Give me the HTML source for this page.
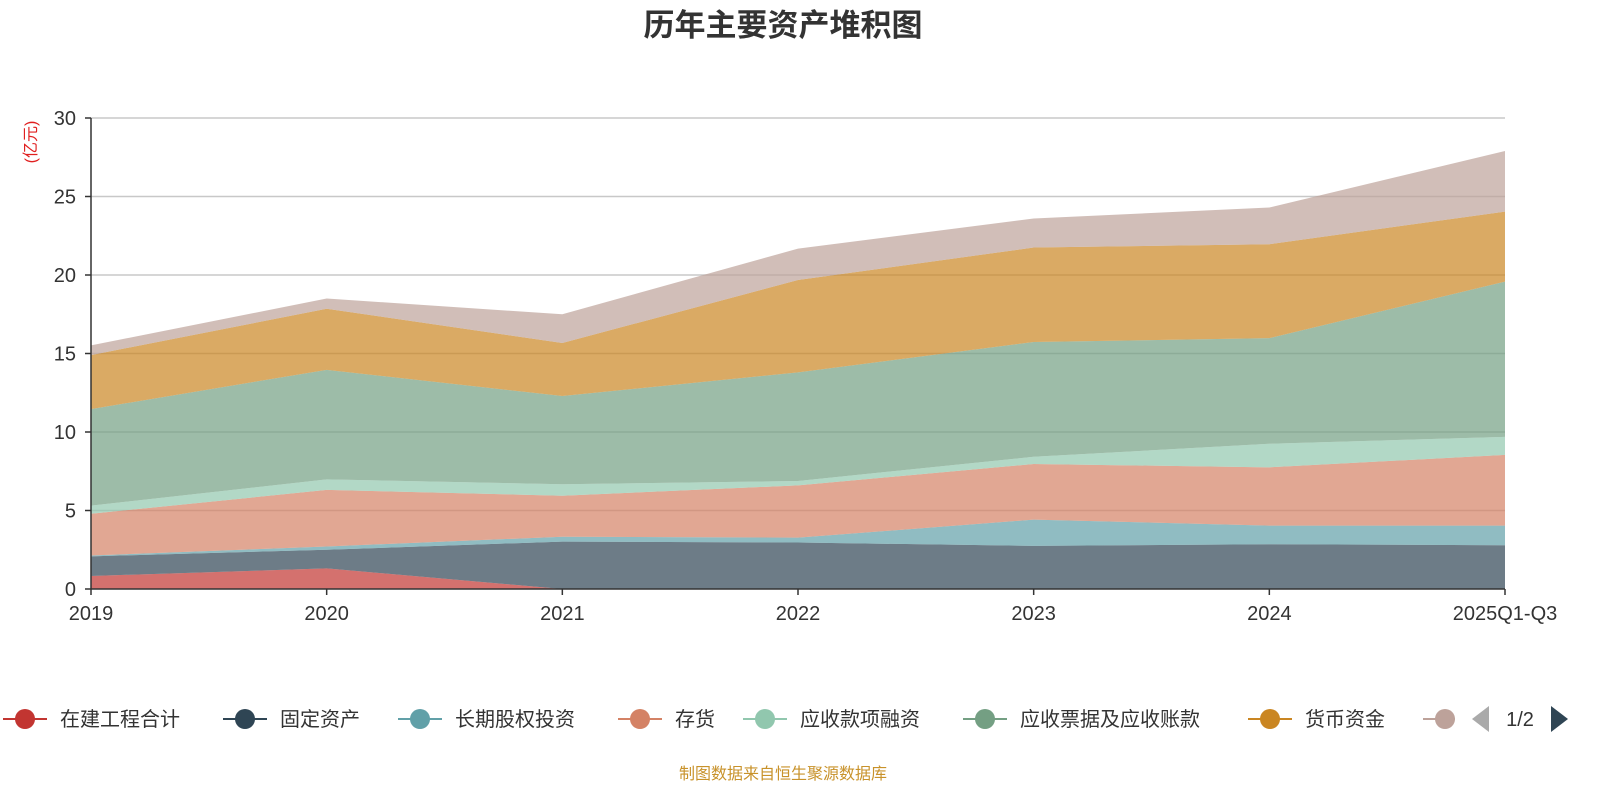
<!DOCTYPE html>
<html><head><meta charset="utf-8"><style>
body{margin:0;width:1600px;height:800px;background:#fff;overflow:hidden;font-family:"Liberation Sans","Noto Sans CJK SC",sans-serif;}
svg{position:absolute;left:0;top:0}
</style></head><body>
<svg id="chart" width="1600" height="800"></svg>
<script>
const categories=["2019","2020","2021","2022","2023","2024","2025Q1-Q3"];
const seriesNames=["在建工程合计","固定资产","长期股权投资","存货","应收款项融资","应收票据及应收账款","货币资金","其他"];
const sRed=[0.83,1.31,0,0,0,0,0];
const sDark=[1.25,1.19,3.02,2.96,2.75,2.85,2.79];
const sTeal=[0.05,0.21,0.31,0.31,1.67,1.19,1.25];
const sSalmon=[2.66,3.6,2.61,3.33,3.54,3.71,4.5];
const sLgreen=[0.52,0.67,0.73,0.28,0.46,1.5,1.15];
const sGreen=[6.15,6.98,5.62,6.92,7.31,6.73,9.89];
const sOrange=[3.44,3.89,3.38,5.88,6.02,5.98,4.46];
const sBrown=[0.62,0.65,1.83,2.0,1.85,2.34,3.86];
const yTicks=[0,5,10,15,20,25,30];
const colors=["#c23531","#2f4554","#61a0a8","#d48265","#91c7ae","#749f83","#ca8622","#bda29a"];
const series=[sRed,sDark,sTeal,sSalmon,sLgreen,sGreen,sOrange,sBrown];
const NS="http://www.w3.org/2000/svg";
const svg=document.getElementById('chart');
const X0=91,X1=1505,Y0=589,Y1=118,YMAX=30;
const xs=i=>X0+(X1-X0)*i/(categories.length-1);
const ys=v=>Y0-(Y0-Y1)*v/YMAX;
function mk(t,a){const e=document.createElementNS(NS,t);for(const k in a)e.setAttribute(k,a[k]);svg.appendChild(e);return e;}
// title
let t=mk('text',{x:783,y:36,'text-anchor':'middle','font-size':31,'font-weight':'bold',fill:'#333'});t.textContent="历年主要资产堆积图";


// grid
yTicks.forEach(v=>{
 if(v>0){const g=mk('line',{x1:X0,x2:X1,y1:ys(v),y2:ys(v),stroke:'#c8c8c8','stroke-width':1.5});
 
 }
 const l=mk('text',{x:76,y:ys(v)+7,'text-anchor':'end','font-size':20,fill:'#333'});l.textContent=v;
 
 
 mk('line',{x1:85,x2:X0,y1:ys(v),y2:ys(v),stroke:'#333','stroke-width':1.5});
});
// areas
let cum=categories.map(()=>0);
series.forEach((s,k)=>{
 const lo=cum.slice();const hi=cum.map((c,i)=>c+s[i]);
 let d='M'+hi.map((v,i)=>xs(i)+','+ys(v)).join(' L')+' L'+lo.map((v,i)=>xs(i)+','+ys(v)).reverse().join(' L')+'Z';
 const p=mk('path',{d:d,fill:colors[k],'fill-opacity':0.7});
 
 
 cum=hi;
});
// axes
mk('line',{x1:X0,x2:X0,y1:Y1,y2:Y0,stroke:'#333','stroke-width':1.5});
mk('line',{x1:X0,x2:X1,y1:Y0,y2:Y0,stroke:'#333','stroke-width':1.5});
categories.forEach((c,i)=>{
 mk('line',{x1:xs(i),x2:xs(i),y1:Y0,y2:Y0+6,stroke:'#333','stroke-width':1.5});
 const l=mk('text',{x:xs(i),y:620,'text-anchor':'middle','font-size':20,fill:'#333'});l.textContent=c;
 
 
});
const yl=mk('text',{x:0,y:0,transform:'translate(36,142) rotate(-90)','text-anchor':'middle','font-size':16,fill:'#e02020'});yl.textContent="(亿元)";


// legend
const legX=[25,245,420,640,765,985,1270,1445];
legX.forEach((x,k)=>{
 const g=document.createElementNS(NS,'g');svg.appendChild(g);
 
 
 const ln=document.createElementNS(NS,'line');
 [['x1',x-22],['x2',Math.min(x+22,1455)],['y1',719],['y2',719],['stroke',colors[k]],['stroke-width',2]].forEach(a=>ln.setAttribute(a[0],a[1]));g.appendChild(ln);
 const c=document.createElementNS(NS,'circle');
 [['cx',x],['cy',719],['r',10],['fill',colors[k]]].forEach(a=>c.setAttribute(a[0],a[1]));
 if(k==7){c.setAttribute('clip-path','url(#clipL)');ln.setAttribute('clip-path','url(#clipL)');}
 g.appendChild(c);
 if(k<7){const tx=document.createElementNS(NS,'text');
 [['x',x+35],['y',726],['font-size',20],['fill','#333']].forEach(a=>tx.setAttribute(a[0],a[1]));
 tx.textContent=seriesNames[k];g.appendChild(tx);}
});
const defs=document.createElementNS(NS,'defs');defs.innerHTML='<clipPath id="clipL"><rect x="1400" y="690" width="55" height="60"/></clipPath>';svg.appendChild(defs);
const pl=mk('path',{d:'M1489,706 L1489,732 L1472,719Z',fill:'#aaa'});


const pr=mk('path',{d:'M1551,706 L1551,732 L1568,719Z',fill:'#2f4554'});


const pg=mk('text',{x:1520,y:726,'text-anchor':'middle','font-size':20,fill:'#333'});pg.textContent="1/2";


const ft=mk('text',{x:783,y:779,'text-anchor':'middle','font-size':16,fill:'#c8922a'});ft.textContent="制图数据来自恒生聚源数据库";


</script>
</body></html>
